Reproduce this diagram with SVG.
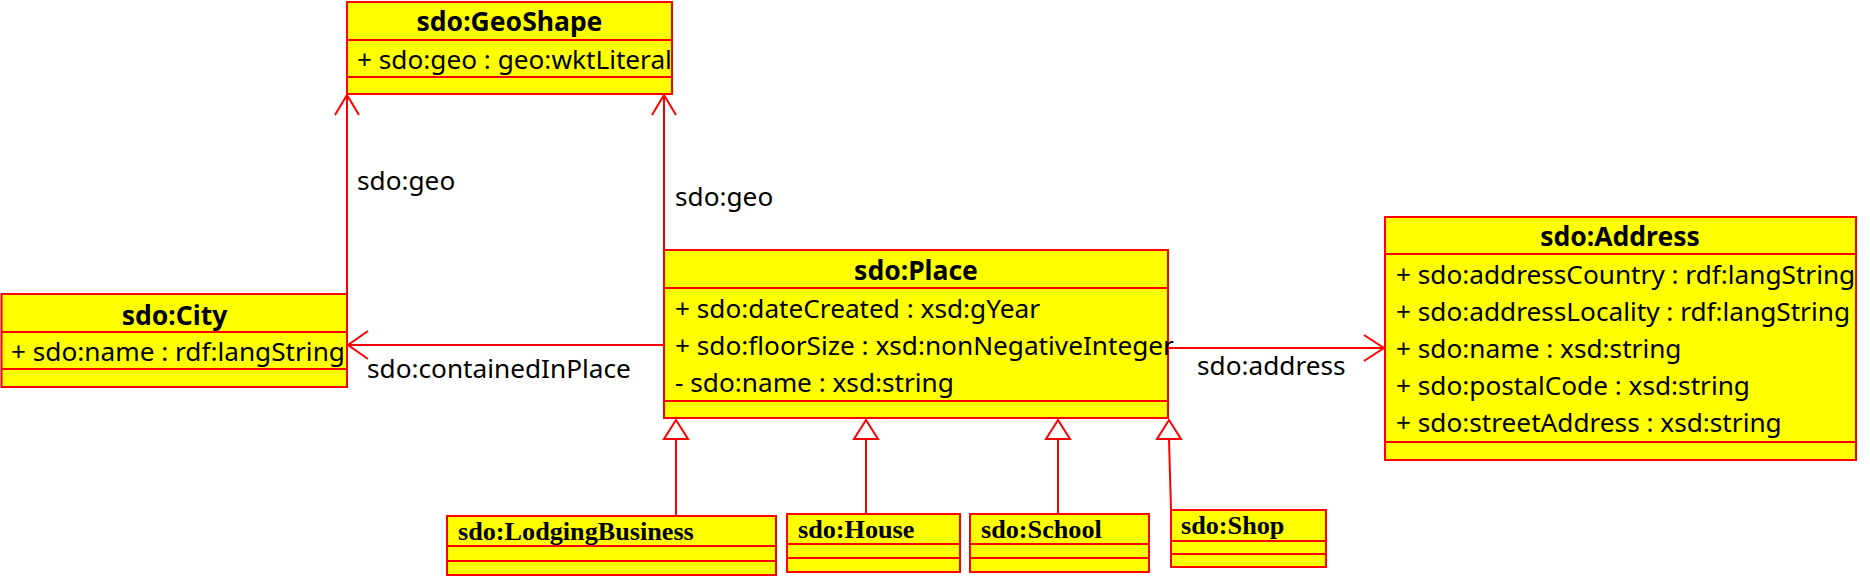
<svg xmlns="http://www.w3.org/2000/svg" width="1870" height="584" viewBox="0 0 1870 584">
<style>
.box{fill:#FFFF00;stroke:#FF0000;stroke-width:2}
.div{stroke:#FF0000;stroke-width:2;fill:none}
.t{font-family:"Noto Sans","Liberation Sans",sans-serif;font-size:26.2px;fill:#000}
.h{font-family:"Noto Sans","Liberation Sans",sans-serif;font-size:26.5px;font-weight:bold;fill:#000;text-anchor:middle}
.s{font-family:"Liberation Serif","Times New Roman",serif;font-size:26.2px;font-weight:bold;fill:#000}
.ln{stroke:#FF0000;stroke-width:2;fill:none}
.tri{stroke:#FF0000;stroke-width:2;fill:#FFFFFF}
</style>
<rect width="1870" height="584" fill="#FFFFFF"/>
<g id="connectors">
  <path class="ln" d="M347,294 V95"/>
  <path class="ln" d="M335,115 L347,95 L359,115"/>
  <path class="ln" d="M664,250 V95"/>
  <path class="ln" d="M652,115 L664,95 L676,115"/>
  <path class="ln" d="M664,345 H348"/>
  <path class="ln" d="M368,331 L348,345 L368,359"/>
  <path class="ln" d="M1168,348 H1384"/>
  <path class="ln" d="M1364,335 L1384,348 L1364,361"/>
  <path class="ln" d="M676,516 V439"/>
  <path class="tri" d="M676,420 L688,439 L664,439 Z"/>
  <path class="ln" d="M866,514 V439"/>
  <path class="tri" d="M866,420 L878,439 L854,439 Z"/>
  <path class="ln" d="M1058,514 V439"/>
  <path class="tri" d="M1058,420 L1070,439 L1046,439 Z"/>
  <path class="ln" d="M1169,439 L1171,510"/>
  <path class="tri" d="M1169,420 L1181,439 L1157,439 Z"/>
  <text class="t" x="357" y="190">sdo:geo</text>
  <text class="t" x="675" y="206">sdo:geo</text>
  <text class="t" x="367" y="378">sdo:containedInPlace</text>
  <text class="t" x="1197" y="375">sdo:address</text>
</g>
<g id="GeoShape">
  <rect class="box" x="347" y="2" width="325" height="92"/>
  <path class="div" d="M347,40 H672 M347,77 H672"/>
  <text class="h" x="509.5" y="31">sdo:GeoShape</text>
  <text class="t" x="357" y="69">+ sdo:geo : geo:wktLiteral</text>
</g>
<g id="City">
  <rect class="box" x="1.5" y="294" width="345.5" height="93"/>
  <path class="div" d="M1.5,332 H347 M1.5,369 H347"/>
  <text class="h" x="174.5" y="325">sdo:City</text>
  <text class="t" x="11" y="361">+ sdo:name : rdf:langString</text>
</g>
<g id="Place">
  <rect class="box" x="664" y="250" width="504" height="168"/>
  <path class="div" d="M664,288 H1168 M664,401 H1168"/>
  <text class="h" x="916" y="280">sdo:Place</text>
  <text class="t" x="675" y="318">+ sdo:dateCreated : xsd:gYear</text>
  <text class="t" x="675" y="355">+ sdo:floorSize : xsd:nonNegativeInteger</text>
  <text class="t" x="675" y="392">- sdo:name : xsd:string</text>
</g>
<g id="Address">
  <rect class="box" x="1385" y="217" width="471" height="243"/>
  <path class="div" d="M1385,254 H1856 M1385,442 H1856"/>
  <text class="h" x="1620" y="246">sdo:Address</text>
  <text class="t" x="1396" y="284">+ sdo:addressCountry : rdf:langString</text>
  <text class="t" x="1396" y="321">+ sdo:addressLocality : rdf:langString</text>
  <text class="t" x="1396" y="358">+ sdo:name : xsd:string</text>
  <text class="t" x="1396" y="395">+ sdo:postalCode : xsd:string</text>
  <text class="t" x="1396" y="432">+ sdo:streetAddress : xsd:string</text>
</g>
<g id="LodgingBusiness">
  <rect class="box" x="447" y="516" width="329" height="59"/>
  <path class="div" d="M447,546 H776 M447,561 H776"/>
  <text class="s" x="458" y="540">sdo:LodgingBusiness</text>
</g>
<g id="House">
  <rect class="box" x="787" y="514" width="173" height="58"/>
  <path class="div" d="M787,544 H960 M787,558 H960"/>
  <text class="s" x="798" y="538">sdo:House</text>
</g>
<g id="School">
  <rect class="box" x="970" y="514" width="179" height="58"/>
  <path class="div" d="M970,544 H1149 M970,558 H1149"/>
  <text class="s" x="981" y="538">sdo:School</text>
</g>
<g id="Shop">
  <rect class="box" x="1171" y="510" width="155" height="57"/>
  <path class="div" d="M1171,541 H1326 M1171,554 H1326"/>
  <text class="s" x="1181" y="534">sdo:Shop</text>
</g>
</svg>
